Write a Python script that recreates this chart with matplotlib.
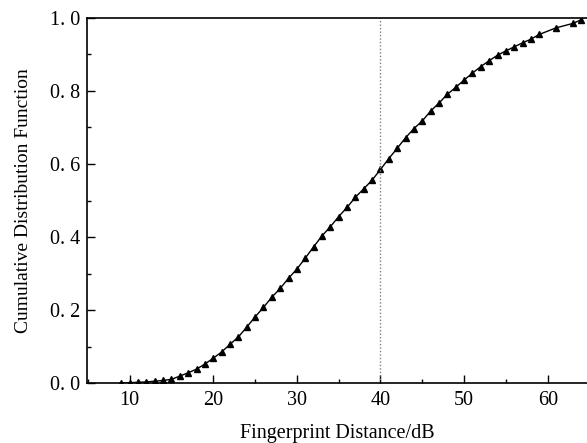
import numpy as np
import matplotlib
matplotlib.use('Agg')
import matplotlib.pyplot as plt
from matplotlib.ticker import MultipleLocator, FuncFormatter

plt.rcParams['font.family'] = ['Liberation Serif', 'DejaVu Serif']

# 指纹距离 (dB) 与累积分布函数值
distance = [9, 10, 11, 12, 13, 14, 15, 16, 17, 18, 19, 20, 21, 22, 23, 24,
            25, 26, 27, 28, 29, 30, 31, 32, 33, 34, 35, 36, 37, 38, 39, 40,
            41, 42, 43, 44, 45, 46, 47, 48, 49, 50, 51, 52, 53, 54, 55, 56,
            57, 58, 59, 61, 63, 64]
cdf = [0.000, 0.001, 0.002, 0.003, 0.005, 0.007, 0.010, 0.019, 0.028, 0.038,
       0.052, 0.068, 0.085, 0.106, 0.126, 0.153, 0.181, 0.207, 0.235, 0.259,
       0.287, 0.312, 0.342, 0.373, 0.403, 0.428, 0.456, 0.481, 0.509, 0.532,
       0.556, 0.585, 0.615, 0.643, 0.672, 0.697, 0.718, 0.745, 0.767, 0.791,
       0.810, 0.830, 0.849, 0.867, 0.883, 0.898, 0.910, 0.921, 0.932, 0.942,
       0.955, 0.973, 0.985, 0.995]
threshold = 40

fig = plt.figure(figsize=(5.87, 4.43), dpi=100)
ax = fig.add_axes([0.1482, 0.1354, 0.8518, 0.8240])

ax.plot(distance, cdf, color='black', linewidth=1.0, marker='^',
        markersize=4.8, markerfacecolor='black', markeredgecolor='black')
ax.axvline(threshold, color='#808080', linestyle=(0, (1, 1.5)), linewidth=1.0)

ax.set_xlim(4.9, 64.7)
ax.set_ylim(0, 1.0)
ax.xaxis.set_major_locator(MultipleLocator(10))
ax.xaxis.set_minor_locator(MultipleLocator(5))
ax.yaxis.set_major_locator(MultipleLocator(0.2))
ax.yaxis.set_minor_locator(MultipleLocator(0.1))
ax.yaxis.set_major_formatter(FuncFormatter(lambda v, p: f'{v:.1f}'.replace('.', '. ')))
ax.tick_params(which='major', direction='in', length=6, width=1.0, labelsize=14.5)
ax.tick_params(which='minor', direction='in', length=3, width=1.0)
ax.tick_params(axis='x', which='major', pad=6)
ax.tick_params(axis='y', which='major', pad=5)
ax.tick_params(top=False, right=False)

ax.spines['right'].set_visible(False)
for s in ['left', 'bottom', 'top']:
    ax.spines[s].set_linewidth(1.2)

ax.set_xlabel('Fingerprint Distance/dB', fontsize=14.5, labelpad=10)
ax.set_ylabel('Cumulative Distribution Function', fontsize=14, labelpad=13)

plt.savefig('out.png', dpi=100)
